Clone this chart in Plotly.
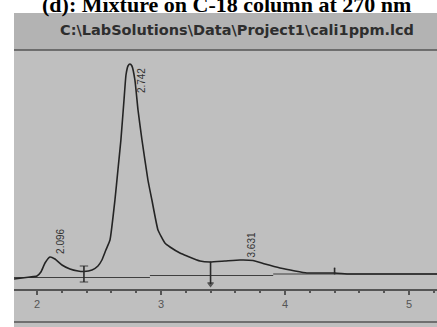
import plotly.graph_objects as go

# Chromatogram trace: retention time (min) and detector signal
time_min = [1.815, 1.944, 2.0, 2.032, 2.065, 2.105, 2.145, 2.202, 2.266, 2.331,
            2.379, 2.444, 2.492, 2.524, 2.556, 2.589, 2.629, 2.653, 2.677, 2.702,
            2.718, 2.734, 2.75, 2.766, 2.79, 2.815, 2.847, 2.895, 2.927, 2.976,
            3.032, 3.073, 3.153, 3.21, 3.315, 3.395, 3.516, 3.637, 3.742, 3.839,
            3.96, 4.081, 4.177, 4.282, 4.403, 4.524, 5.0, 5.226]
signal = [-1, 1, 2, 6, 15, 21, 19, 13, 9, 7,
          6.5, 8, 12, 18, 28, 38, 78, 108, 138, 178,
          203, 212, 214, 212, 198, 168, 138, 98, 78, 48,
          35, 31, 25, 22, 17, 16, 17, 18, 17.5, 14,
          10, 7, 5, 5, 5, 4, 4, 4]

# Integration baseline segments (start, end, level)
base_start = [1.815, 2.911, 3.905]
base_end = [2.911, 3.905, 5.226]
base_level = [0.5, 2.5, 4]

# Peak apex labels
peak_rt = ["2.096", "2.742", "3.631"]
peak_x = [2.185, 2.84, 3.73]
peak_y = [37, 197, 33]

# Peak start/end event markers
event_t = [2.379, 3.40, 4.40]
event_top = [12, 16, 10]
event_bottom = [-4, -6, 4]

x_ticks = [2, 3, 4, 5]
file_path = "C:\\LabSolutions\\Data\\Project1\\cali1ppm.lcd"
title_text = "(d): Mixture on C-18 column at 270 nm"

W, H = 437, 327
L, T = 14, 13
y_lo, y_hi = -49, 265
x_lo, x_hi = 1.815, 5.226
PW, PH = W - L, H - T


def py(v):
    # pixel row -> signal units
    return 278 - v


def paper_x(px):
    return (px - L) / PW


def paper_y(row):
    return 1 - (row - T) / PH


ink = "#2a2a2a"
fig = go.Figure()

# header band of the screen
fig.add_shape(type="rect", xref="x", yref="y", x0=x_lo, x1=x_hi,
              y0=py(50), y1=y_hi, fillcolor="#b3b3b3", line_width=0, layer="below")
for row in (50, 322):
    fig.add_shape(type="line", xref="x", yref="y", x0=x_lo, x1=x_hi,
                  y0=py(row), y1=py(row), line=dict(color="#555555", width=1.5))

# baseline drawn by integration
for s, e, lv in zip(base_start, base_end, base_level):
    fig.add_trace(go.Scatter(x=[s, e], y=[lv, lv], mode="lines",
                             line=dict(color="#3f3f3f", width=1.2), hoverinfo="skip"))

fig.add_trace(go.Scatter(x=time_min, y=signal, mode="lines",
                         line=dict(color="#242424", width=1.6, shape="spline", smoothing=0.4),
                         hoverinfo="skip"))

event_marks = [["line-ew", "line-ew"], ["line-ew-open", "triangle-down"], ["line-ew-open", "line-ew-open"]]
event_sizes = [[6, 6], [1, 5], [1, 1]]
for t, top, bot, sym, sz in zip(event_t, event_top, event_bottom, event_marks, event_sizes):
    fig.add_trace(go.Scatter(x=[t, t], y=[top, bot], mode="lines+markers",
                             line=dict(color=ink, width=1.6),
                             marker=dict(symbol=sym, size=sz, color=ink,
                                         line=dict(color=ink, width=1.2)),
                             hoverinfo="skip"))

for txt, xx, yy in zip(peak_rt, peak_x, peak_y):
    fig.add_annotation(x=xx, y=yy, xref="x", yref="y", text=txt, showarrow=False,
                       textangle=-90, font=dict(family="Liberation Sans Narrow, Arial Narrow, Liberation Sans",
                                                size=10, color="#333333"))

fig.add_annotation(x=paper_x(237), y=paper_y(30), xref="paper", yref="paper", yanchor="middle",
                   xanchor="center", text="<b>" + file_path + "</b>", showarrow=False,
                   font=dict(family="DejaVu Sans", size=14.5, color="#2e2e2e"))

fig.add_annotation(x=paper_x(227), y=paper_y(4.5), xref="paper", yref="paper", xanchor="center",
                   yanchor="middle", text="<b>" + title_text + "</b>", showarrow=False,
                   font=dict(family="Liberation Serif, DejaVu Serif", size=22, color="#000000"))

fig.update_layout(
    width=W, height=H,
    margin=dict(l=L, r=0, t=T, b=0),
    paper_bgcolor="white",
    plot_bgcolor="#bfbfbf",
    showlegend=False,
    xaxis=dict(range=[x_lo, x_hi], tickvals=x_ticks, ticktext=[str(v) for v in x_ticks],
               showgrid=False, zeroline=False, showline=True, linecolor="#555555", linewidth=1.5,
               anchor="free", position=paper_y(290), ticks="outside", ticklen=4,
               tickcolor="#555555", tickwidth=1.5,
               tickfont=dict(family="Liberation Sans, Arial", size=11, color="#555555"),
               minor=dict(dtick=0.2, ticks="outside", ticklen=2, tickcolor="#555555", tickwidth=2),
               fixedrange=True),
    yaxis=dict(range=[y_lo, y_hi], visible=False, fixedrange=True),
)

fig.write_html("out.html")
